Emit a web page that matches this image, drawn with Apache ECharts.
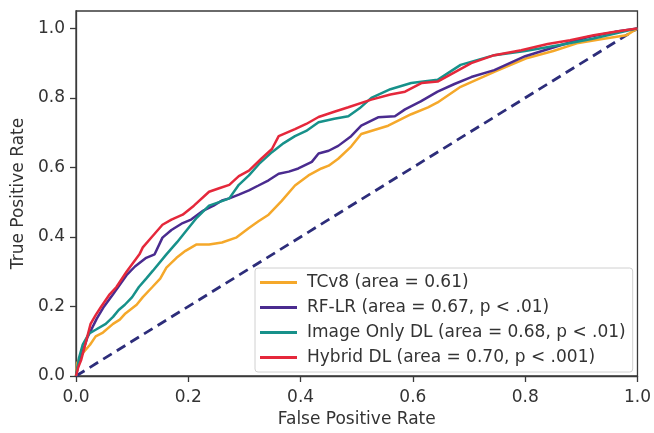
<!DOCTYPE html>
<html>
<head>
<meta charset="utf-8">
<script src="https://cdn.jsdelivr.net/npm/echarts@6/dist/echarts.min.js"></script>
<style>
html,body{margin:0;padding:0;background:#fff;}
#chart{width:654px;height:433px;}
</style>
</head>
<body>
<div id="chart"></div>
<script>
// Tick labels
const xTicks = [0, 0.2, 0.4, 0.6, 0.8, 1.0];
const yTicks = [0, 0.2, 0.4, 0.6, 0.8, 1.0];

// Legend names
const seriesNames = [
  'TCv8 (area = 0.61)',
  'RF-LR (area = 0.67, p < .01)',
  'Image Only DL (area = 0.68, p < .01)',
  'Hybrid DL (area = 0.70, p < .001)'
];

// TCv8
const fprTC = [0, 0.002, 0.012, 0.025, 0.035, 0.048, 0.066, 0.078, 0.088, 0.108, 0.119, 0.136, 0.15, 0.161, 0.179, 0.195, 0.214, 0.237, 0.26, 0.285, 0.308, 0.325, 0.343, 0.366, 0.39, 0.414, 0.437, 0.45, 0.467, 0.49, 0.508, 0.556, 0.597, 0.627, 0.644, 0.685, 0.745, 0.804, 0.85, 0.892, 0.94, 0.98, 1.0];
const tprTC = [0, 0.037, 0.066, 0.09, 0.114, 0.125, 0.15, 0.162, 0.18, 0.205, 0.227, 0.256, 0.28, 0.312, 0.34, 0.36, 0.378, 0.378, 0.384, 0.398, 0.426, 0.445, 0.464, 0.503, 0.548, 0.577, 0.597, 0.605, 0.625, 0.66, 0.696, 0.72, 0.753, 0.773, 0.787, 0.832, 0.875, 0.915, 0.935, 0.957, 0.97, 0.98, 1.0];

// RF-LR
const fprRF = [0, 0.004, 0.01, 0.02, 0.037, 0.05, 0.066, 0.09, 0.105, 0.125, 0.14, 0.154, 0.17, 0.19, 0.205, 0.225, 0.245, 0.26, 0.273, 0.29, 0.308, 0.325, 0.343, 0.361, 0.379, 0.396, 0.42, 0.432, 0.45, 0.467, 0.49, 0.508, 0.538, 0.568, 0.586, 0.614, 0.644, 0.674, 0.704, 0.745, 0.8, 0.86, 0.912, 0.96, 1.0];
const tprRF = [0, 0.03, 0.06, 0.11, 0.165, 0.2, 0.235, 0.29, 0.315, 0.34, 0.35, 0.398, 0.42, 0.44, 0.45, 0.474, 0.49, 0.505, 0.511, 0.522, 0.534, 0.548, 0.563, 0.582, 0.588, 0.597, 0.616, 0.64, 0.648, 0.662, 0.69, 0.72, 0.744, 0.747, 0.767, 0.79, 0.818, 0.84, 0.86, 0.88, 0.92, 0.95, 0.975, 0.99, 1.0];

// Image Only DL
const fprIMG = [0, 0.005, 0.012, 0.023, 0.035, 0.053, 0.066, 0.076, 0.087, 0.1, 0.112, 0.125, 0.137, 0.161, 0.18, 0.196, 0.215, 0.237, 0.255, 0.273, 0.29, 0.308, 0.326, 0.349, 0.37, 0.39, 0.41, 0.432, 0.46, 0.485, 0.505, 0.526, 0.56, 0.597, 0.644, 0.685, 0.745, 0.8, 0.862, 0.92, 0.96, 1.0];
const tprIMG = [0, 0.05, 0.09, 0.122, 0.133, 0.15, 0.17, 0.19, 0.205, 0.227, 0.256, 0.28, 0.303, 0.35, 0.385, 0.417, 0.455, 0.49, 0.5, 0.511, 0.55, 0.577, 0.61, 0.644, 0.67, 0.69, 0.705, 0.73, 0.74, 0.747, 0.77, 0.8, 0.825, 0.843, 0.852, 0.895, 0.923, 0.935, 0.952, 0.97, 0.985, 1.0];

// Hybrid DL
const fprHY = [0, 0.004, 0.009, 0.018, 0.026, 0.035, 0.045, 0.06, 0.072, 0.09, 0.113, 0.119, 0.135, 0.154, 0.17, 0.19, 0.21, 0.237, 0.255, 0.273, 0.29, 0.308, 0.33, 0.349, 0.361, 0.39, 0.41, 0.432, 0.46, 0.485, 0.526, 0.56, 0.586, 0.616, 0.644, 0.67, 0.704, 0.745, 0.793, 0.84, 0.88, 0.922, 0.96, 1.0];
const tprHY = [0, 0.025, 0.045, 0.1, 0.15, 0.175, 0.2, 0.235, 0.256, 0.3, 0.35, 0.37, 0.4, 0.435, 0.45, 0.464, 0.49, 0.53, 0.54, 0.55, 0.575, 0.591, 0.625, 0.653, 0.69, 0.71, 0.725, 0.745, 0.76, 0.773, 0.795, 0.81, 0.818, 0.843, 0.847, 0.87, 0.9, 0.923, 0.937, 0.955, 0.966, 0.98, 0.99, 1.0];

// Chance diagonal
const fprDiag = [0, 1];
const tprDiag = [0, 1];

function pairs(xs, ys) { return xs.map((x, i) => [x, ys[i]]); }

const colors = ['#f5a82a', '#4a2b8f', '#17918a', '#e5283b'];
const font = 'DejaVu Sans';
const axisColor = '#3a3a3a';

const chart = echarts.init(document.getElementById('chart'), null, {renderer: 'canvas'});
const lineSeries = [[fprTC, tprTC], [fprRF, tprRF], [fprIMG, tprIMG], [fprHY, tprHY]].map((d, i) => ({
  name: seriesNames[i],
  type: 'line',
  data: pairs(d[0], d[1]),
  showSymbol: false,
  symbol: 'none',
  animation: false,
  lineStyle: {color: colors[i], width: 2.5},
  itemStyle: {color: colors[i]},
  z: 2 + i
}));

chart.setOption({
  animation: false,
  backgroundColor: '#fff',
  grid: {left: 76, right: 13, top: 11, bottom: 53, show: true, borderColor: axisColor, borderWidth: 1.3, backgroundColor: 'transparent'},
  legend: {
    orient: 'vertical',
    left: 255,
    top: 268,
    data: seriesNames,
    icon: 'rect',
    itemWidth: 37,
    itemHeight: 3,
    itemGap: 8,
    padding: [6, 7, 6, 5],
    backgroundColor: 'rgba(255,255,255,0.85)',
    borderColor: '#d0d0d0',
    borderWidth: 1,
    borderRadius: 3,
    textStyle: {fontFamily: font, fontSize: 17, color: '#333', padding: [0, 0, 0, 5]}
  },
  xAxis: {
    type: 'value', min: 0, max: 1, interval: 0.2,
    name: 'False Positive Rate', nameLocation: 'middle', nameGap: 35,
    nameTextStyle: {fontFamily: font, fontSize: 17, color: '#333'},
    axisLine: {show: true, lineStyle: {color: axisColor, width: 1.3}},
    axisTick: {show: true, length: 6, lineStyle: {color: axisColor, width: 1.3}, customValues: xTicks},
    axisLabel: {fontFamily: font, fontSize: 17, color: '#333', margin: 13, customValues: xTicks, formatter: v => v.toFixed(1)},
    splitLine: {show: false}
  },
  yAxis: {
    type: 'value', min: 0, max: 1.05,
    name: 'True Positive Rate', nameLocation: 'middle', nameGap: 48,
    nameTextStyle: {fontFamily: font, fontSize: 17, color: '#333'},
    axisLine: {show: true, lineStyle: {color: axisColor, width: 1.3}},
    axisTick: {show: true, length: 6, lineStyle: {color: axisColor, width: 1.3}, customValues: yTicks},
    axisLabel: {fontFamily: font, fontSize: 17, color: '#333', margin: 11, customValues: yTicks, formatter: v => v.toFixed(1)},
    splitLine: {show: false}
  },
  series: lineSeries.concat([{
    name: 'chance',
    type: 'line',
    data: pairs(fprDiag, tprDiag),
    showSymbol: false,
    symbol: 'none',
    lineStyle: {color: '#2d2d7a', width: 2.8, type: [10, 6]},
    z: 1
  }])
});
</script>
</body>
</html>
